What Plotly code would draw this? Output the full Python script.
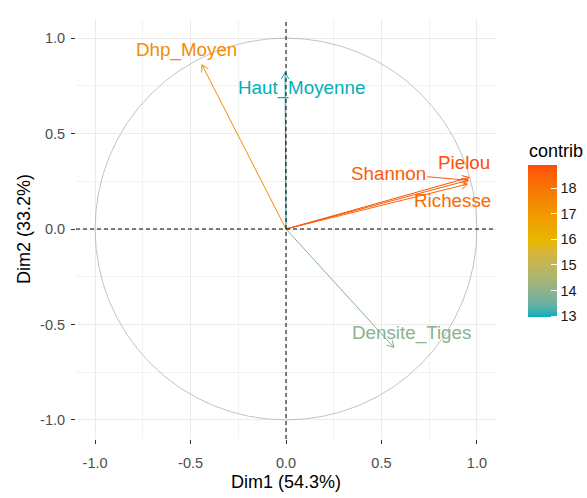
import numpy as np
import plotly.graph_objects as go

# ---- data ----
variables = ["Dhp_Moyen", "Haut_Moyenne", "Shannon", "Pielou", "Richesse", "Densite_Tiges"]
dim1 = [-0.44, -0.005, 0.955, 0.96, 0.95, 0.565]
dim2 = [0.86, 0.82, 0.255, 0.27, 0.235, -0.62]
contrib = [17.3, 12.95, 18.6, 18.9, 18.35, 13.9]
tick_vals = [-1.0, -0.5, 0.0, 0.5, 1.0]
tick_text = ["-1.0", "-0.5", "0.0", "0.5", "1.0"]
legend_ticks = [13, 14, 15, 16, 17, 18]
legend_title = "contrib"
x_title = "Dim1 (54.3%)"
y_title = "Dim2 (33.2%)"

# ---- style ----
FONT = "Liberation Sans, Arial, sans-serif"
stops = ["#00AFBB", "#E7B800", "#FC4E07"]
# label offsets (pixels) from arrow tip: (xshift, yshift, connector)
label_style = {
    "Dhp_Moyen": (-16, 15, False),
    "Haut_Moyenne": (16, -16, False),
    "Shannon": (-80, 7, True),
    "Pielou": (-5, 15, False),
    "Richesse": (-15, -16, False),
    "Densite_Tiges": (18, 14, False),
}

# ---- colour helpers (Lab interpolation like ggplot2) ----
def hex2rgb(h):
    h = h.lstrip("#")
    return np.array([int(h[i:i + 2], 16) for i in (0, 2, 4)], dtype=float) / 255


def srgb2lin(c):
    return np.where(c <= 0.04045, c / 12.92, ((c + 0.055) / 1.055) ** 2.4)


def lin2srgb(c):
    c = np.clip(c, 0, 1)
    return np.where(c <= 0.0031308, 12.92 * c, 1.055 * c ** (1 / 2.4) - 0.055)


M = np.array([[0.4124, 0.3576, 0.1805], [0.2126, 0.7152, 0.0722], [0.0193, 0.1192, 0.9505]])
Minv = np.linalg.inv(M)
WHITE = np.array([0.95047, 1.0, 1.08883])


def f_lab(t):
    d = 6 / 29
    return np.where(t > d ** 3, np.cbrt(t), t / (3 * d * d) + 4 / 29)


def finv_lab(t):
    d = 6 / 29
    return np.where(t > d, t ** 3, 3 * d * d * (t - 4 / 29))


def rgb2lab(rgb):
    xyz = M @ srgb2lin(rgb) / WHITE
    fx, fy, fz = f_lab(xyz)
    return np.array([116 * fy - 16, 500 * (fx - fy), 200 * (fy - fz)])


def lab2rgb(lab):
    L, a, b = lab
    fy = (L + 16) / 116
    fx = fy + a / 500
    fz = fy - b / 200
    xyz = finv_lab(np.array([fx, fy, fz])) * WHITE
    return lin2srgb(Minv @ xyz)


LABS = [rgb2lab(hex2rgb(s)) for s in stops]


def frac_color(t):
    t = min(max(t, 0.0), 1.0)
    if t <= 0.5:
        a, b, f = LABS[0], LABS[1], t / 0.5
    else:
        a, b, f = LABS[1], LABS[2], (t - 0.5) / 0.5
    rgb = lab2rgb(a + (b - a) * f)
    return "rgb(%d,%d,%d)" % tuple(np.round(rgb * 255))


cmin, cmax = min(contrib), max(contrib)
colorscale = [[i / 20, frac_color(i / 20)] for i in range(21)]

fig = go.Figure()

# correlation circle
fig.add_shape(type="circle", xref="x", yref="y", x0=-1, y0=-1, x1=1, y1=1,
              line=dict(color="#B3B3B3", width=0.8), layer="above")

# dashed reference lines
fig.add_shape(type="line", xref="x domain", yref="y", x0=0, x1=1, y0=0, y1=0,
              line=dict(color="black", width=1, dash="4px,3px"), layer="above")
fig.add_shape(type="line", xref="x", yref="y domain", x0=0, x1=0, y0=0, y1=1,
              line=dict(color="black", width=1, dash="4px,3px"), layer="above")

head_len = 0.04
head_ang = np.deg2rad(30)
for name, x, y, c in zip(variables, dim1, dim2, contrib):
    col = frac_color((c - cmin) / (cmax - cmin))
    ang = np.arctan2(y, x)
    wx1 = x - head_len * np.cos(ang - head_ang)
    wy1 = y - head_len * np.sin(ang - head_ang)
    wx2 = x - head_len * np.cos(ang + head_ang)
    wy2 = y - head_len * np.sin(ang + head_ang)
    fig.add_trace(go.Scatter(
        x=[0, x, None, wx1, x, wx2], y=[0, y, None, wy1, y, wy2],
        mode="lines", line=dict(color=col, width=1), hoverinfo="skip",
        showlegend=False))
    xs, ys, conn = label_style[name]
    if conn:
        fig.add_annotation(x=x, y=y, xref="x", yref="y", text=name,
                           showarrow=True, arrowhead=0, arrowwidth=1,
                           arrowcolor=col, ax=xs, ay=-ys, standoff=0,
                           font=dict(family=FONT, size=18.8, color=col))
    else:
        fig.add_annotation(x=x, y=y, xref="x", yref="y", text=name,
                           showarrow=False, xshift=xs, yshift=ys,
                           font=dict(family=FONT, size=18.8, color=col))

# invisible markers carrying the colour bar
fig.add_trace(go.Scatter(
    x=dim1, y=dim2, mode="markers", hoverinfo="skip", showlegend=False,
    marker=dict(color=contrib, colorscale=colorscale, cmin=cmin, cmax=cmax,
                opacity=0, size=1, showscale=True,
                colorbar=dict(
                    xref="container", yref="container",
                    x=528 / 587, xanchor="left",
                    y=1 - 196 / 498, yanchor="top",
                    lenmode="pixels", len=152, thickness=29,
                    outlinewidth=0, tickvals=legend_ticks,
                    ticktext=[str(t) for t in legend_ticks],
                    ticks="inside", ticklen=6, tickcolor="white",
                    tickfont=dict(family=FONT, size=14.5, color="#1A1A1A"),
                    xpad=0, ypad=0))))

# legend title
fig.add_annotation(xref="paper", yref="paper", x=(527 - 76) / 420, y=(439 - 151) / 420,
                   xanchor="left", yanchor="middle", showarrow=False,
                   text=legend_title, font=dict(family=FONT, size=18, color="black"))

axis_common = dict(
    tickvals=tick_vals, ticktext=tick_text, showgrid=True, automargin=False,
    gridcolor="#EBEBEB", gridwidth=1, zeroline=False, showline=False,
    ticks="outside", ticklen=4, tickcolor="#333333", tickwidth=1,
    tickfont=dict(family=FONT, size=14.5, color="#4D4D4D"),
    minor=dict(tickvals=[-0.75, -0.25, 0.25, 0.75], showgrid=True,
               gridcolor="#F2F2F2", gridwidth=0.7, ticks=""),
)

fig.update_layout(
    width=587, height=498,
    margin=dict(l=76, r=91, t=19, b=59),
    plot_bgcolor="white", paper_bgcolor="white",
    font=dict(family=FONT),
    xaxis=dict(range=[-1.1, 1.1], **axis_common, ticklabelstandoff=7,
               title=dict(text=x_title, standoff=4,
                          font=dict(family=FONT, size=18, color="black"))),
    yaxis=dict(range=[-1.1, 1.1], **axis_common, ticklabelstandoff=3,
               title=dict(text=y_title, standoff=4,
                          font=dict(family=FONT, size=18, color="black"))),
)

fig.write_html("out.html", config={"displayModeBar": False},
               post_script="document.body.style.margin='0';document.body.style.overflow='hidden';")
